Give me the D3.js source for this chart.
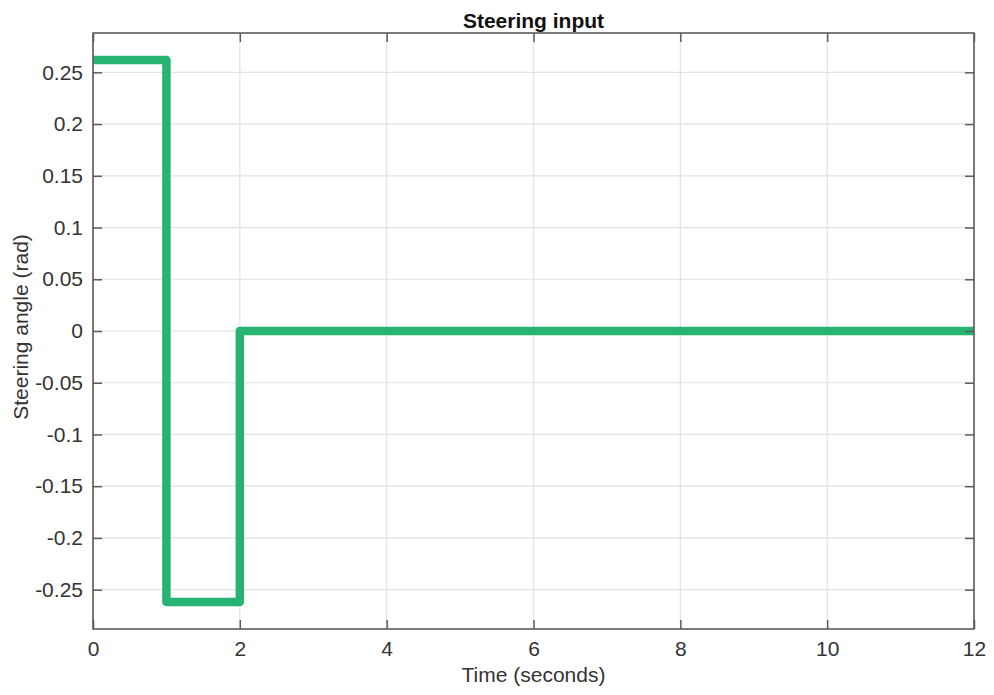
<!DOCTYPE html>
<html>
<head>
<meta charset="utf-8">
<script src="https://cdn.jsdelivr.net/npm/d3@7/dist/d3.min.js"></script>
<style>
  html, body { margin: 0; padding: 0; background: #fff; }
  svg { display: block; font-family: "Liberation Sans", Arial, sans-serif; }
</style>
</head>
<body>
<svg id="chart" width="994" height="695"></svg>
<script>
// Steering command: +15 deg for 1 s, -15 deg for 1 s, then straight
const stepTimes = [0, 1, 2, 12];
const steeringAngles = [0.2618, -0.2618, 0, 0];
const xTicks = [0, 2, 4, 6, 8, 10, 12];
const yTicks = [0.25, 0.2, 0.15, 0.1, 0.05, 0, -0.05, -0.1, -0.15, -0.2, -0.25];

const W = 994, H = 695;
const margin = { left: 93, right: 20, top: 33, bottom: 66 };
const svg = d3.select("#chart");
const pw = W - margin.left - margin.right;
const ph = H - margin.top - margin.bottom;

const x = d3.scaleLinear().domain([0, 12]).range([margin.left, margin.left + pw]);
const y = d3.scaleLinear().domain([-0.288, 0.288]).range([margin.top + ph, margin.top]);

const textColor = "#333";
const axisColor = "#5c5c5c";
const gridColor = "#e2e2e2";
const tickLen = 9;
const fs = 21;

// grid
const grid = svg.append("g");
grid.selectAll(".gx").data(xTicks).join("line")
  .attr("x1", d => x(d)).attr("x2", d => x(d))
  .attr("y1", margin.top).attr("y2", margin.top + ph)
  .attr("stroke", gridColor).attr("stroke-width", 1.2);
grid.selectAll(".gy").data(yTicks).join("line")
  .attr("x1", margin.left).attr("x2", margin.left + pw)
  .attr("y1", d => y(d)).attr("y2", d => y(d))
  .attr("stroke", gridColor).attr("stroke-width", 1.2);

// data line
const clipId = "plotclip";
svg.append("clipPath").attr("id", clipId).append("rect")
  .attr("x", margin.left).attr("y", margin.top).attr("width", pw).attr("height", ph);

const points = stepTimes.map((t, i) => [t, steeringAngles[i]]);
const line = d3.line().x(d => x(d[0])).y(d => y(d[1])).curve(d3.curveStepAfter);
svg.append("path")
  .datum(points)
  .attr("d", line)
  .attr("clip-path", `url(#${clipId})`)
  .attr("fill", "none")
  .attr("stroke", "#27b473")
  .attr("stroke-width", 8.5)
  .attr("stroke-linejoin", "round");

// axes (ticks pointing inward on all four sides); plain hyphen for negatives
const fmt = d => String(+d.toFixed(2));

const xAxisB = d3.axisBottom(x).tickValues(xTicks).tickSizeInner(-tickLen).tickSizeOuter(0).tickPadding(12).tickFormat(fmt);
const xAxisT = d3.axisTop(x).tickValues(xTicks).tickSizeInner(-tickLen).tickSizeOuter(0).tickFormat("");
const yAxisL = d3.axisLeft(y).tickValues(yTicks).tickSizeInner(-tickLen).tickSizeOuter(0).tickPadding(10).tickFormat(fmt);
const yAxisR = d3.axisRight(y).tickValues(yTicks).tickSizeInner(-tickLen).tickSizeOuter(0).tickFormat("");

function styleAxis(g) {
  g.select(".domain").remove();
  g.selectAll(".tick line").attr("stroke", axisColor).attr("stroke-width", 1.5);
  g.selectAll(".tick text").attr("fill", textColor).attr("font-size", fs)
    .attr("font-family", "'Liberation Sans', Arial, sans-serif");
}

svg.append("g").attr("transform", `translate(0,${margin.top + ph})`).call(xAxisB).call(styleAxis);
svg.append("g").attr("transform", `translate(0,${margin.top})`).call(xAxisT).call(styleAxis);
svg.append("g").attr("transform", `translate(${margin.left},0)`).call(yAxisL).call(styleAxis);
svg.append("g").attr("transform", `translate(${margin.left + pw},0)`).call(yAxisR).call(styleAxis);

// box
svg.append("rect")
  .attr("x", margin.left).attr("y", margin.top).attr("width", pw).attr("height", ph)
  .attr("fill", "none").attr("stroke", axisColor).attr("stroke-width", 1.6);

// title and labels
svg.append("text")
  .attr("x", margin.left + pw / 2).attr("y", 28)
  .attr("text-anchor", "middle").attr("font-weight", "bold")
  .attr("font-size", 21).attr("fill", "#111")
  .text("Steering input");

svg.append("text")
  .attr("x", margin.left + pw / 2).attr("y", 682)
  .attr("text-anchor", "middle").attr("font-size", fs).attr("fill", textColor)
  .text("Time (seconds)");

svg.append("text")
  .attr("transform", `translate(28,${margin.top + ph / 2 - 4}) rotate(-90)`)
  .attr("text-anchor", "middle").attr("font-size", fs).attr("fill", textColor)
  .text("Steering angle (rad)");
</script>
</body>
</html>
